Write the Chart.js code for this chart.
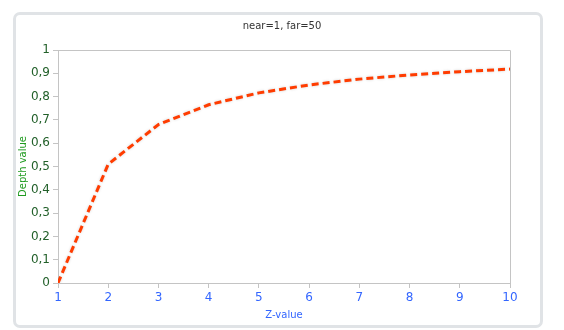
<!DOCTYPE html>
<html>
<head>
<meta charset="utf-8">
<script src="https://cdn.jsdelivr.net/npm/chart.js@4/dist/chart.umd.min.js"></script>
<style>
  html, body { margin: 0; padding: 0; background: #fff; }
  #frame {
    position: absolute; left: 13px; top: 12px; width: 524px; height: 310px;
    border: 3px solid #e0e3e6; border-radius: 7px;
  }
  #chart { position: absolute; left: 0; top: 0; }
</style>
</head>
<body>
<div id="frame"></div>
<canvas id="chart" width="564" height="330"></canvas>
<script>
var zValues = [1, 2, 3, 4, 5, 6, 7, 8, 9, 10];
var depthValues = [0, 0.51, 0.68, 0.765, 0.816, 0.85, 0.875, 0.893, 0.907, 0.918];
var xTicks = [1, 2, 3, 4, 5, 6, 7, 8, 9, 10];
var yTicks = [0, 0.1, 0.2, 0.3, 0.4, 0.5, 0.6, 0.7, 0.8, 0.9, 1];

var points = zValues.map(function(z, i) { return {x: z, y: depthValues[i]}; });

// frame around the plot area + soft glow behind the line
var plotFrame = {
    id: 'plotFrame',
    beforeDatasetsDraw: function(chart) {
        var a = chart.chartArea, ctx = chart.ctx;
        ctx.save();
        ctx.strokeStyle = '#c4c4c4';
        ctx.lineWidth = 1;
        ctx.beginPath();
        ctx.moveTo(a.left, a.top + 0.5);
        ctx.lineTo(a.right + 0.5, a.top + 0.5);
        ctx.lineTo(a.right + 0.5, a.bottom);
        ctx.stroke();
        ctx.restore();
        ctx.save();
        ctx.shadowColor = 'rgba(0,0,0,0.18)';
        ctx.shadowBlur = 3;
    },
    afterDatasetsDraw: function(chart) {
        chart.ctx.restore();
    }
};

var ctx = document.getElementById("chart").getContext('2d');
var myChart = new Chart(ctx, {
    type: 'line',
    data: {
        datasets: [{
            data: points,
            borderColor: '#ff3c00',
            borderWidth: 3,
            borderDash: [7, 4],
            pointRadius: 0,
            tension: 0,
            fill: false
        }]
    },
    options: {
        responsive: false,
        animation: false,
        layout: { padding: 0 },
        plugins: {
            legend: { display: false },
            tooltip: { enabled: false },
            title: {
                display: true,
                text: 'near=1, far=50',
                color: '#333',
                font: { family: 'DejaVu Sans', size: 10, weight: 'normal' },
                padding: { top: 20, bottom: 18 }
            }
        },
        scales: {
            x: {
                type: 'linear',
                min: 1,
                max: 10,
                afterBuildTicks: function(scale) {
                    scale.ticks = xTicks.map(function(v) { return {value: v}; });
                },
                afterFit: function(scale) { scale.height = 47; },
                grid: { drawOnChartArea: false, drawTicks: true, tickLength: 5, color: '#c4c4c4' },
                border: { color: '#c4c4c4' },
                ticks: {
                    color: '#3366ff',
                    padding: 3,
                    maxRotation: 0,
                    font: { family: 'DejaVu Sans', size: 12 }
                },
                title: {
                    display: true,
                    text: 'Z-value',
                    color: '#3366ff',
                    font: { family: 'DejaVu Sans', size: 10 },
                    padding: { top: 0, bottom: 9 }
                }
            },
            y: {
                min: 0,
                max: 1,
                afterBuildTicks: function(scale) {
                    scale.ticks = yTicks.map(function(v) { return {value: v}; });
                },
                afterFit: function(scale) { scale.width = 58; },
                grid: { drawOnChartArea: false, drawTicks: true, tickLength: 5, color: '#c4c4c4' },
                border: { color: '#c4c4c4' },
                ticks: {
                    color: '#22602a',
                    padding: 3,
                    font: { family: 'DejaVu Sans', size: 12 },
                    callback: function(v) {
                        return String(Math.round(v * 10) / 10).replace('.', ',');
                    }
                },
                title: {
                    display: true,
                    text: 'Depth value',
                    color: '#1e9a1e',
                    font: { family: 'DejaVu Sans', size: 10 },
                    padding: { top: 17, bottom: 0 }
                }
            },
            yRight: {
                position: 'right',
                min: 0,
                max: 1,
                afterFit: function(scale) { scale.width = 54; },
                grid: { display: false },
                border: { display: false },
                ticks: { display: false }
            }
        }
    },
    plugins: [plotFrame]
});
</script>
</body>
</html>
